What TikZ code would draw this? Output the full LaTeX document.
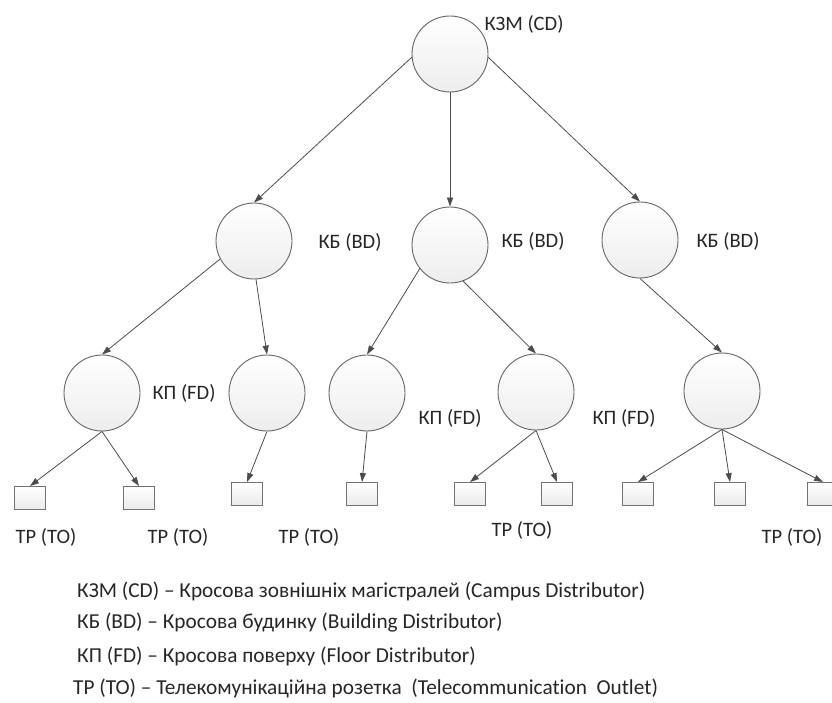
\documentclass[tikz,border=0pt]{standalone}
\usepackage{fontspec}
\setmainfont{Carlito}[Ligatures=CommonOff]
\usetikzlibrary{arrows.meta}

\begin{document}
\begin{tikzpicture}[x=1pt, y=-1pt,
    dist/.style={circle, draw=black!60, line width=0.9pt, top color=white, bottom color=black!7, minimum size=76pt, inner sep=0pt},
    outlet/.style={rectangle, draw=black!55, line width=0.9pt, top color=white, bottom color=black!8, minimum width=31pt, minimum height=23pt, inner sep=0pt},
    lbl/.style={font=\fontsize{20.5}{24}\selectfont, text=black!85, inner sep=0pt},
    legend/.style={lbl, font=\fontsize{21.3}{25}\selectfont, anchor=west},
    arr/.style={draw=black!70, line width=0.8pt, -{Triangle[length=9pt, width=6pt]}}]

    \useasboundingbox (0,0) rectangle (832,702);

    %% Campus level
    \node[dist] (cd) at (450,54) {};
    \node[lbl] (cdlbl) at (524,24) {КЗМ (CD)};

    %% Building level
    \node[dist] (bd1) at (254,241) {};
    \node[dist] (bd2) at (450,245) {};
    \node[dist] (bd3) at (640,240) {};
    \node[lbl] (bd1lbl) at (350,242) {КБ (BD)};
    \node[lbl] (bd2lbl) at (533,241) {КБ (BD)};
    \node[lbl] (bd3lbl) at (728,241) {КБ (BD)};

    %% Floor level
    \node[dist] (fd1) at (102,393) {};
    \node[dist] (fd2) at (267,393) {};
    \node[dist] (fd3) at (367,393) {};
    \node[dist] (fd4) at (536,392) {};
    \node[dist] (fd5) at (722,391) {};
    \node[lbl] (fd1lbl) at (184,393) {КП (FD)};
    \node[lbl] (fd3lbl) at (450,418) {КП (FD)};
    \node[lbl] (fd4lbl) at (624,418) {КП (FD)};

    %% Outlets
    \node[outlet] (to1) at (30,498) {};
    \node[outlet] (to2) at (139,498) {};
    \node[outlet] (to3) at (247,494) {};
    \node[outlet] (to4) at (362,494) {};
    \node[outlet] (to5) at (470,494) {};
    \node[outlet] (to6) at (557,494) {};
    \node[outlet] (to7) at (638,494) {};
    \node[outlet] (to8) at (730,494) {};
    \node[outlet] (to9) at (823,494) {};
    \node[lbl] (to1lbl) at (46,537) {ТР (TO)};
    \node[lbl] (to2lbl) at (178,537) {ТР (TO)};
    \node[lbl] (to3lbl) at (309,537) {ТР (TO)};
    \node[lbl] (to5lbl) at (522,530) {ТР (TO)};
    \node[lbl] (to9lbl) at (792,537) {ТР (TO)};

    %% Links
    \draw[arr] (cd.185) -- (bd1.north);
    \draw[arr] (cd.south) -- (bd2.north);
    \draw[arr] (cd.355) -- (bd3.north);

    \draw[arr] (bd1.208) -- (fd1.north);
    \draw[arr] (bd1.273) -- (fd2.north);
    \draw[arr] (bd2.218) -- (fd3.north);
    \draw[arr] (bd2.290) -- (fd4.north);
    \draw[arr] (bd3.south) -- (fd5.north);

    \draw[arr] (fd1.south) -- (to1.north);
    \draw[arr] (fd1.south) -- (to2.north);
    \draw[arr] (fd2.south) -- (to3.north);
    \draw[arr] (fd3.south) -- (to4.north);
    \draw[arr] (fd4.south) -- (to5.north);
    \draw[arr] (fd4.south) -- (to6.north);
    \draw[arr] (fd5.south) -- (to7.north);
    \draw[arr] (fd5.south) -- (to8.north);
    \draw[arr] (fd5.south) -- (to9.north);

    %% Legend
    \node[legend] (leg1) at (77,591) {КЗМ (CD) – Кросова зовнішніх магістралей (Campus Distributor)};
    \node[legend] (leg2) at (77,623) {КБ (BD) – Кросова будинку (Building Distributor)};
    \node[legend] (leg3) at (77,656) {КП (FD) – Кросова поверху (Floor Distributor)};
    \node[legend] (leg4) at (73,688) {ТР (TO) – Телекомунікаційна розетка~ (Telecommunication~ Outlet)};

\end{tikzpicture}
\end{document}
